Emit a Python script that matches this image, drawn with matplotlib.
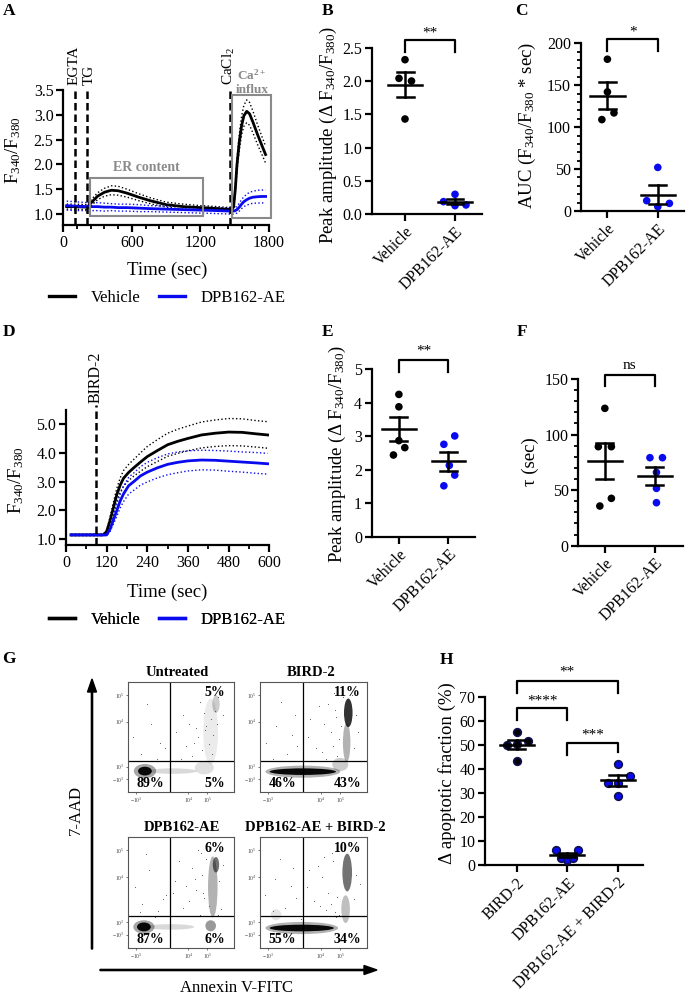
import numpy as np
import matplotlib
matplotlib.use("Agg")
import matplotlib.pyplot as plt
from matplotlib.patches import Rectangle, Ellipse, FancyArrow
from matplotlib.lines import Line2D
from matplotlib.ticker import MultipleLocator, FormatStrFormatter

plt.rcParams['font.family'] = ['Liberation Serif', 'DejaVu Serif']
plt.rcParams['mathtext.fontset'] = 'custom'
plt.rcParams['mathtext.rm'] = 'Liberation Serif'
plt.rcParams['mathtext.it'] = 'Liberation Serif:italic'
plt.rcParams['mathtext.bf'] = 'Liberation Serif:bold'

BLUE = '#0a0aee'
GREY = '#8a8a8a'
W, H = 686, 1000

# ---- data: panel A (Ca2+ store / influx trace) ----
a_time = [30, 100, 210, 240, 300, 360, 420, 480, 560, 660, 760, 900, 1050, 1200,
          1350, 1460, 1490, 1505, 1520, 1540, 1560, 1580, 1605, 1630, 1660, 1700, 1740, 1770]
a_veh = [1.15, 1.15, 1.14, 1.22, 1.36, 1.44, 1.48, 1.47, 1.42, 1.34, 1.27, 1.19, 1.15, 1.13,
         1.11, 1.09, 1.14, 1.50, 2.00, 2.45, 2.78, 2.98, 3.07, 3.02, 2.85, 2.60, 2.37, 2.20]
a_veh_sem = [0.05, 0.05, 0.05, 0.06, 0.07, 0.08, 0.09, 0.09, 0.08, 0.07, 0.06, 0.05, 0.05, 0.04,
             0.04, 0.04, 0.05, 0.08, 0.12, 0.16, 0.19, 0.21, 0.23, 0.23, 0.22, 0.20, 0.18, 0.17]
a_dpb = [1.17, 1.16, 1.15, 1.15, 1.15, 1.14, 1.14, 1.13, 1.13, 1.12, 1.11, 1.10, 1.09, 1.08,
         1.07, 1.06, 1.06, 1.07, 1.09, 1.14, 1.20, 1.25, 1.29, 1.32, 1.34, 1.35, 1.355, 1.355]
a_dpb_sem = [0.09, 0.09, 0.08, 0.08, 0.08, 0.08, 0.07, 0.07, 0.07, 0.07, 0.06, 0.06, 0.06, 0.06,
             0.06, 0.06, 0.06, 0.06, 0.07, 0.08, 0.09, 0.10, 0.11, 0.12, 0.12, 0.13, 0.13, 0.13]

# ---- data: panel D (BIRD-2 trace) ----
d_time = [15, 60, 110, 120, 130, 140, 150, 160, 170, 185, 200, 220, 240, 270, 300,
          330, 360, 400, 440, 480, 520, 560, 595]
d_veh = [1.15, 1.15, 1.15, 1.27, 1.65, 2.10, 2.55, 2.88, 3.12, 3.32, 3.48, 3.68, 3.87, 4.08, 4.28,
         4.40, 4.50, 4.62, 4.68, 4.72, 4.71, 4.66, 4.62]
d_veh_sem = [0.02, 0.02, 0.02, 0.05, 0.12, 0.18, 0.22, 0.25, 0.27, 0.28, 0.29, 0.32, 0.35, 0.38, 0.40,
             0.42, 0.43, 0.45, 0.46, 0.47, 0.47, 0.46, 0.46]
d_dpb = [1.15, 1.15, 1.15, 1.15, 1.35, 1.67, 2.00, 2.33, 2.58, 2.86, 3.00, 3.20, 3.33, 3.48, 3.60,
         3.67, 3.72, 3.75, 3.74, 3.71, 3.68, 3.65, 3.62]
d_dpb_sem = [0.02, 0.02, 0.02, 0.02, 0.08, 0.14, 0.20, 0.24, 0.27, 0.29, 0.30, 0.32, 0.34, 0.35, 0.36,
             0.36, 0.35, 0.34, 0.34, 0.35, 0.35, 0.36, 0.36]

# ---- data: dot plots ----
groups2 = ['Vehicle', 'DPB162-AE']
b_veh = [2.32, 2.04, 2.00, 1.43]
b_dpb = [0.30, 0.19, 0.14, 0.13]
b_jit = [[0, -0.12, 0.13, 0], [0, -0.23, 0.22, 0]]
c_veh = [181, 142, 117, 109]
c_dpb = [52, 12.3, 9.1, 5.2]
c_jit = [[0, 0, 0.13, -0.11], [0, -0.22, 0.23, 0]]
e_veh = [4.25, 3.88, 2.87, 2.66, 2.44]
e_dpb = [3.01, 2.76, 2.13, 1.84, 1.52]
e_jit = [[0, 0, 0, 0.12, -0.11], [0.13, -0.09, 0.02, 0.13, -0.09]]
f_veh = [123.6, 89.1, 89.1, 42.6, 35.7]
f_dpb = [79.2, 79.2, 66.0, 51.6, 38.7]
f_jit = [[0, -0.13, 0.13, 0.13, -0.1], [-0.1, 0.15, 0.03, 0.03, 0.03]]
groups3 = ['BIRD-2', 'DPB162-AE', 'DPB162-AE + BIRD-2']
h_bird = [55.5, 50.0, 50.4, 51.9, 43.3]
h_dpb = [6.3, 6.3, 3.0, 2.2, 3.0]
h_combo = [42.0, 37.3, 34.1, 34.1, 28.9]
h_jit = [[0, -0.2, 0, 0.22, 0], [-0.22, 0.22, -0.12, 0, 0.12], [0, 0.24, -0.2, 0, 0]]

# ---- data: flow cytometry (G) ----
g_titles = ['Untreated', 'BIRD-2', 'DPB162-AE', 'DPB162-AE + BIRD-2']
g_pct = [['5%', '89%', '5%'], ['11%', '46%', '43%'], ['6%', '87%', '6%'], ['10%', '55%', '34%']]
# populations: centre x, centre y, width, height, density
g_pops = [
    [(0.16, 0.19, 0.13, 0.08, 0.95), (0.16, 0.19, 0.21, 0.13, 0.35), (0.42, 0.19, 0.46, 0.05, 0.15),
     (0.72, 0.22, 0.18, 0.12, 0.12), (0.78, 0.55, 0.14, 0.60, 0.08), (0.83, 0.80, 0.07, 0.16, 0.2)],
    [(0.40, 0.185, 0.62, 0.06, 0.95), (0.40, 0.185, 0.70, 0.11, 0.3), (0.825, 0.72, 0.08, 0.26, 0.8),
     (0.81, 0.45, 0.07, 0.35, 0.3), (0.75, 0.25, 0.15, 0.12, 0.2)],
    [(0.15, 0.19, 0.13, 0.08, 0.95), (0.15, 0.19, 0.20, 0.12, 0.35), (0.40, 0.19, 0.45, 0.05, 0.15),
     (0.80, 0.55, 0.09, 0.55, 0.3), (0.83, 0.75, 0.06, 0.14, 0.55), (0.78, 0.20, 0.10, 0.10, 0.4)],
    [(0.39, 0.18, 0.60, 0.06, 0.95), (0.39, 0.18, 0.68, 0.11, 0.3), (0.815, 0.68, 0.09, 0.34, 0.55),
     (0.80, 0.35, 0.08, 0.25, 0.25), (0.15, 0.30, 0.10, 0.10, 0.1)],
]
g_speck_x = [
    [0.05, 0.12, 0.22, 0.30, 0.18, 0.27, 0.35, 0.45, 0.52, 0.58, 0.62, 0.66, 0.70, 0.72, 0.74,
     0.76, 0.78, 0.80, 0.82, 0.85, 0.87, 0.60, 0.55, 0.68, 0.50, 0.90, 0.73, 0.79, 0.84, 0.64],
    [0.06, 0.15, 0.25, 0.33, 0.20, 0.45, 0.52, 0.60, 0.66, 0.70, 0.72, 0.74, 0.76, 0.78, 0.88,
     0.90, 0.62, 0.55, 0.68, 0.30, 0.86, 0.71, 0.12, 0.40, 0.64, 0.58, 0.92, 0.69, 0.47, 0.35],
    [0.07, 0.13, 0.20, 0.28, 0.17, 0.36, 0.44, 0.52, 0.60, 0.64, 0.68, 0.70, 0.72, 0.74, 0.76,
     0.86, 0.88, 0.66, 0.58, 0.25, 0.90, 0.71, 0.11, 0.48, 0.63, 0.55, 0.33, 0.69, 0.42, 0.85],
    [0.05, 0.14, 0.23, 0.31, 0.19, 0.44, 0.50, 0.58, 0.64, 0.68, 0.70, 0.72, 0.74, 0.76, 0.88,
     0.90, 0.62, 0.54, 0.66, 0.29, 0.86, 0.71, 0.12, 0.38, 0.60, 0.56, 0.93, 0.67, 0.46, 0.34],
]
g_speck_y = [
    [0.50, 0.35, 0.62, 0.45, 0.80, 0.30, 0.40, 0.55, 0.70, 0.62, 0.45, 0.50, 0.38, 0.72, 0.60,
     0.44, 0.66, 0.52, 0.74, 0.86, 0.90, 0.33, 0.42, 0.82, 0.30, 0.70, 0.56, 0.35, 0.62, 0.58],
    [0.45, 0.60, 0.35, 0.70, 0.82, 0.50, 0.40, 0.62, 0.55, 0.75, 0.33, 0.48, 0.60, 0.86, 0.40,
     0.70, 0.30, 0.78, 0.42, 0.52, 0.88, 0.68, 0.30, 0.28, 0.80, 0.36, 0.55, 0.90, 0.66, 0.42],
    [0.55, 0.40, 0.70, 0.33, 0.85, 0.48, 0.60, 0.36, 0.72, 0.52, 0.30, 0.66, 0.45, 0.80, 0.38,
     0.60, 0.35, 0.88, 0.42, 0.28, 0.75, 0.50, 0.32, 0.78, 0.62, 0.56, 0.44, 0.86, 0.50, 0.30],
    [0.48, 0.62, 0.36, 0.72, 0.80, 0.55, 0.42, 0.64, 0.50, 0.78, 0.32, 0.46, 0.30, 0.88, 0.44,
     0.66, 0.34, 0.74, 0.40, 0.56, 0.90, 0.28, 0.33, 0.26, 0.82, 0.38, 0.58, 0.86, 0.70, 0.45],
]

fig = plt.figure(figsize=(W / 100, H / 100), dpi=100)


def px_axes(l, t, r, b):
    ax = fig.add_axes([l / W, 1 - b / H, (r - l) / W, (b - t) / H])
    ax.patch.set_alpha(0)
    return ax


def style(ax):
    for s in ['top', 'right']:
        ax.spines[s].set_visible(False)
    for s in ['left', 'bottom']:
        ax.spines[s].set_linewidth(1.6)
    ax.tick_params(width=1.6, length=5, labelsize=11.5, direction='out', pad=2)
    ax.tick_params(which='minor', width=1.3, length=3)


def bracket(ax, x1, x2, y, yl1, yl2, label, ty):
    ax.plot([x1, x1, x2, x2], [yl1, y, y, yl2], color='k', lw=1.6, clip_on=False)
    ax.text((x1 + x2) / 2, ty, label, ha='center', va='center', fontsize=11, clip_on=False)


def dotplot(ax, series, jits, colors, edge=None):
    for i, (vals, jit, col) in enumerate(zip(series, jits, colors)):
        vals = np.array(vals)
        ax.scatter(i + np.array(jit), vals, s=30, color=col, zorder=3, clip_on=False,
                   edgecolors=edge if edge else 'none', linewidths=1.2)
        m = vals.mean()
        sem = vals.std(ddof=1) / np.sqrt(len(vals))
        ax.plot([i - 0.34, i + 0.34], [m, m], color='k', lw=1.8, zorder=4)
        ax.plot([i - 0.17, i + 0.17], [m + sem, m + sem], color='k', lw=1.8, zorder=4)
        ax.plot([i - 0.17, i + 0.17], [m - sem, m - sem], color='k', lw=1.8, zorder=4)
        ax.plot([i, i], [m - sem, m + sem], color='k', lw=1.8, zorder=4)


def rot_labels(ax, labels):
    ax.set_xticks(range(len(labels)))
    ax.set_xticklabels(labels, rotation=45, ha='right', va='top', rotation_mode='anchor')


# ---------------- A ----------------
axA = px_axes(63.3, 90, 269, 225)
style(axA)
axA.plot(a_time, a_veh, color='k', lw=2, zorder=3)
axA.plot(a_time, np.add(a_veh, a_veh_sem), color='k', lw=1, ls=':')
axA.plot(a_time, np.subtract(a_veh, a_veh_sem), color='k', lw=1, ls=':')
axA.plot(a_time, a_dpb, color=BLUE, lw=2, zorder=3)
axA.plot(a_time, np.add(a_dpb, a_dpb_sem), color=BLUE, lw=1, ls=':')
axA.plot(a_time, np.subtract(a_dpb, a_dpb_sem), color=BLUE, lw=1, ls=':')
axA.set_xlim(0, 1800)
axA.set_ylim(0.78, 3.5)
axA.set_xticks([0, 600, 1200, 1800])
axA.xaxis.set_minor_locator(MultipleLocator(120))
axA.set_yticks([1.0, 1.5, 2.0, 2.5, 3.0, 3.5])
axA.yaxis.set_major_formatter(FormatStrFormatter('%.1f'))
for t, lab, tx in [(100, 'EGTA', 92), (210, 'TG', 226), (1460, 'CaCl$_2$', 1450)]:
    axA.plot([t, t], [0.78, 3.55], color='k', lw=1.8, ls=(0, (3, 1.6)), clip_on=False, zorder=4)
    axA.text(tx, 3.6, lab, rotation=90, ha='center', va='bottom', fontsize=11)
axA.add_patch(Rectangle((234, 0.96), 991, 0.77, fill=False, ec=GREY, lw=1.5, clip_on=False, zorder=5))
axA.add_patch(Rectangle((1478, 0.92), 337, 2.48, fill=False, ec=GREY, lw=1.5, clip_on=False, zorder=5))
axA.text(730, 1.80, 'ER content', ha='center', va='bottom', fontsize=10, color=GREY, weight='bold')
axA.text(1651, 3.80, r'Ca$^{\mathbf{2+}}$', ha='center', va='center', fontsize=9.5, color=GREY, weight='bold')
axA.text(1651, 3.50, 'influx', ha='center', va='center', fontsize=9.5, color=GREY, weight='bold',
         clip_on=False)

# ---------------- B ----------------
axB = px_axes(372, 47.7, 482, 214.3)
style(axB)
dotplot(axB, [b_veh, b_dpb], b_jit, ['k', BLUE])
axB.set_xlim(-0.66, 1.54)
axB.set_ylim(0, 2.5)
axB.set_yticks([0, 0.5, 1.0, 1.5, 2.0, 2.5])
axB.yaxis.set_major_formatter(FormatStrFormatter('%.1f'))
rot_labels(axB, groups2)
bracket(axB, 0, 1, 2.62, 2.44, 2.44, '**', 2.72)

# ---------------- C ----------------
axC = px_axes(580.7, 43.3, 684, 211)
style(axC)
dotplot(axC, [c_veh, c_dpb], c_jit, ['k', BLUE])
axC.set_xlim(-0.53, 1.52)
axC.set_ylim(0, 200)
axC.set_yticks([0, 50, 100, 150, 200])
axC.yaxis.set_minor_locator(MultipleLocator(10))
rot_labels(axC, groups2)
bracket(axC, 0, 1, 205, 191, 191, '*', 214)

# ---------------- D ----------------
axD = px_axes(66, 409.6, 269.3, 545)
style(axD)
axD.plot(d_time, d_veh, color='k', lw=2, zorder=3)
axD.plot(d_time, np.add(d_veh, d_veh_sem), color='k', lw=1, ls=':')
axD.plot(d_time, np.subtract(d_veh, d_veh_sem), color='k', lw=1, ls=':')
axD.plot(d_time, d_dpb, color=BLUE, lw=2, zorder=3)
axD.plot(d_time, np.add(d_dpb, d_dpb_sem), color=BLUE, lw=1, ls=':')
axD.plot(d_time, np.subtract(d_dpb, d_dpb_sem), color=BLUE, lw=1, ls=':')
axD.set_xlim(0, 600)
axD.set_ylim(0.8, 5.5)
axD.set_xticks([0, 120, 240, 360, 480, 600])
axD.xaxis.set_minor_locator(MultipleLocator(60))
axD.set_yticks([1.0, 2.0, 3.0, 4.0, 5.0])
axD.yaxis.set_major_formatter(FormatStrFormatter('%.1f'))
axD.plot([88, 88], [0.8, 5.66], color='k', lw=1.8, ls=(0, (3, 1.6)), clip_on=False, zorder=4)
axD.text(86, 5.72, 'BIRD-2', rotation=90, ha='center', va='bottom', fontsize=11.5)

# ---------------- E ----------------
axE = px_axes(371.7, 369.3, 475, 536.7)
style(axE)
dotplot(axE, [e_veh, e_dpb], e_jit, ['k', BLUE])
axE.set_xlim(-0.55, 1.54)
axE.set_ylim(0, 5)
axE.set_yticks([0, 1, 2, 3, 4, 5])
rot_labels(axE, groups2)
bracket(axE, 0, 1, 5.27, 4.93, 4.93, '**', 5.55)

# ---------------- F ----------------
axF = px_axes(578.3, 379, 683, 545.7)
style(axF)
dotplot(axF, [f_veh, f_dpb], f_jit, ['k', BLUE])
axF.set_xlim(-0.53, 1.56)
axF.set_ylim(0, 150)
axF.set_yticks([0, 50, 100, 150])
axF.yaxis.set_minor_locator(MultipleLocator(10))
rot_labels(axF, groups2)
bracket(axF, 0, 1, 153.6, 143.7, 143.7, 'ns', 162)

# ---------------- G ----------------
g_boxes = [(128, 682, 234, 792), (260, 682, 367, 792), (128, 837, 234, 948), (260, 837, 367, 948)]
for k, (l, t, r, b) in enumerate(g_boxes):
    ax = px_axes(l, t, r, b)
    ax.set_xlim(0, 1)
    ax.set_ylim(0, 1)
    for s in ax.spines.values():
        s.set_linewidth(0.8)
        s.set_color('#555555')
    for cx, cy, w, h, a in g_pops[k]:
        ax.add_patch(Ellipse((cx, cy), w, h, color='k', alpha=a, lw=0))
    ax.scatter(g_speck_x[k], g_speck_y[k], s=0.6, color='#555555', lw=0)
    ax.axvline(0.40, color='k', lw=0.9)
    ax.axhline(0.285, color='k', lw=0.9)
    ax.set_xticks([0.075, 0.57, 0.75])
    ax.set_xticklabels(['$-10^3$', '$10^4$', '$10^5$'])
    ax.set_yticks([0.12, 0.23, 0.64, 0.88])
    ax.set_yticklabels(['$-10^3$', '$10^3$', '$10^4$', '$10^5$'])
    ax.tick_params(labelsize=4, length=1.5, width=0.5, pad=1, colors='#444444')
    tr, bl, br = g_pct[k]
    ax.text(0.82, 0.90, tr, ha='center', va='center', fontsize=10, weight='bold')
    ax.text(0.21, 0.08, bl, ha='center', va='center', fontsize=10, weight='bold')
    ax.text(0.82, 0.08, br, ha='center', va='center', fontsize=10, weight='bold')
    ax.text([0.46, 0.48, 0.51, 0.52][k], 1.083, g_titles[k], ha='center', va='center',
            fontsize=10.5, weight='bold', clip_on=False)

# ---------------- H ----------------
axH = px_axes(485, 697.3, 643, 865)
style(axH)
dotplot(axH, [h_bird, h_dpb, h_combo], h_jit, ['k', BLUE, BLUE], edge='#101050')
axH.set_xlim(-0.63, 2.5)
axH.set_ylim(0, 70)
axH.set_yticks(range(0, 71, 10))
rot_labels(axH, groups3)
bracket(axH, 0, 2, 76.9, 72, 72, '**', 80.5)
bracket(axH, 0, 1, 65.5, 60.5, 60.5, '****', 68.5)
bracket(axH, 1, 2, 51, 46, 47, '***', 54.2)

# ---------------- overlay: letters, labels, legends, arrows ----------------
ov = fig.add_axes([0, 0, 1, 1])
ov.set_xlim(0, W)
ov.set_ylim(H, 0)
ov.axis('off')
for lab, x, y in [('A', 3, 11), ('B', 322, 11), ('C', 515, 11), ('D', 3, 332), ('E', 322, 332),
                  ('F', 517, 332), ('G', 2, 659), ('H', 440, 660)]:
    ov.text(x, y, lab, fontsize=12.5, weight='bold', ha='left', va='center')
ylabs = [('F$_{340}$/F$_{380}$', 13, 150), ('Peak amplitude (Δ F$_{340}$/F$_{380}$)', 328, 135),
         ('AUC (F$_{340}$/F$_{380}$ * sec)', 527, 125), ('F$_{340}$/F$_{380}$', 16, 480),
         ('Peak amplitude (Δ F$_{340}$/F$_{380}$)', 337, 454), ('τ (sec)', 530, 462),
         ('Δ apoptotic fraction (%)', 447, 773)]
for s, x, y in ylabs:
    ov.text(x, y, s, rotation=90, ha='center', va='center', fontsize=13.5)
ov.text(167, 270, 'Time (sec)', ha='center', va='center', fontsize=13.5)
ov.text(167, 592, 'Time (sec)', ha='center', va='center', fontsize=13.5)
handles = [Line2D([], [], color='k', lw=2.4), Line2D([], [], color=BLUE, lw=2.4)]
for yy in (298, 620):
    ov.legend(handles, ['Vehicle', 'DPB162-AE'], loc='center', ncol=2, frameon=False, fontsize=12,
              handlelength=1.6, handletextpad=0.9, columnspacing=1.1,
              bbox_to_anchor=(167 / W, 1 - yy / H), bbox_transform=fig.transFigure)
    ov.add_artist(ov.get_legend())
ov.add_patch(FancyArrow(92, 949, 0, -257, width=1.2, head_width=9, head_length=13,
                        length_includes_head=False, color='k'))
ov.add_patch(FancyArrow(100, 970, 264, 0, width=1.2, head_width=9, head_length=13,
                        length_includes_head=False, color='k'))
ov.text(76, 810, '7-AAD', rotation=90, ha='center', va='center', fontsize=12)
ov.text(237, 988, 'Annexin V-FITC', ha='center', va='center', fontsize=12)

fig.savefig('out.png', dpi=100)
